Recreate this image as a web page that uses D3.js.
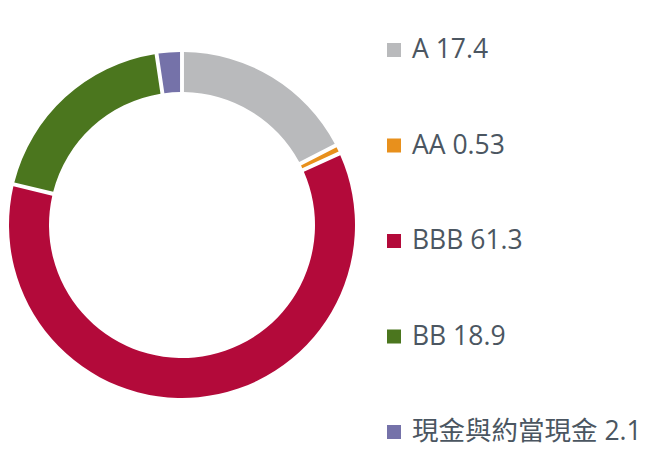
<!DOCTYPE html>
<html><head><meta charset="utf-8">
<script src="https://cdn.jsdelivr.net/npm/d3@7"></script>
<style>body{margin:0;background:#fff;}svg{display:block;}</style>
</head><body>
<svg id="chart" width="650" height="449"></svg>
<script>
const categories = ["A", "AA", "BBB", "BB", "現金與約當現金"];
const values = [17.4, 0.53, 61.3, 18.9, 2.1];
const colors = ["#b9babc", "#e8901c", "#b30a3a", "#4b761e", "#7572a9"];

const svg = d3.select("#chart");
const cx = 182, cy = 225, outerR = 173, innerR = 133;
const pie = d3.pie().sort(null).value(d => d.v).padAngle(0.018);
const arc = d3.arc().innerRadius(innerR).outerRadius(outerR);
const data = categories.map((c, i) => ({c, v: values[i], col: colors[i]}));

svg.append("g").attr("transform", `translate(${cx},${cy})`)
  .selectAll("path").data(pie(data)).join("path")
  .attr("d", arc).attr("fill", d => d.data.col);

const y = d3.scalePoint().domain(categories).range([58, 440]);
const leg = svg.append("g");
const items = leg.selectAll("g").data(data).join("g")
  .attr("transform", d => `translate(0,${y(d.c)})`);
items.append("rect").attr("x", 387).attr("y", -15).attr("width", 14).attr("height", 14)
  .attr("fill", d => d.col);
items.append("text").attr("x", 412).attr("y", 0)
  .attr("font-family", "'Open Sans', 'Noto Sans CJK TC', sans-serif")
  .attr("font-size", 26.5).attr("fill", "#4b5661")
  .text((d, i) => d.c + " " + values[i]);
</script>
</body></html>
